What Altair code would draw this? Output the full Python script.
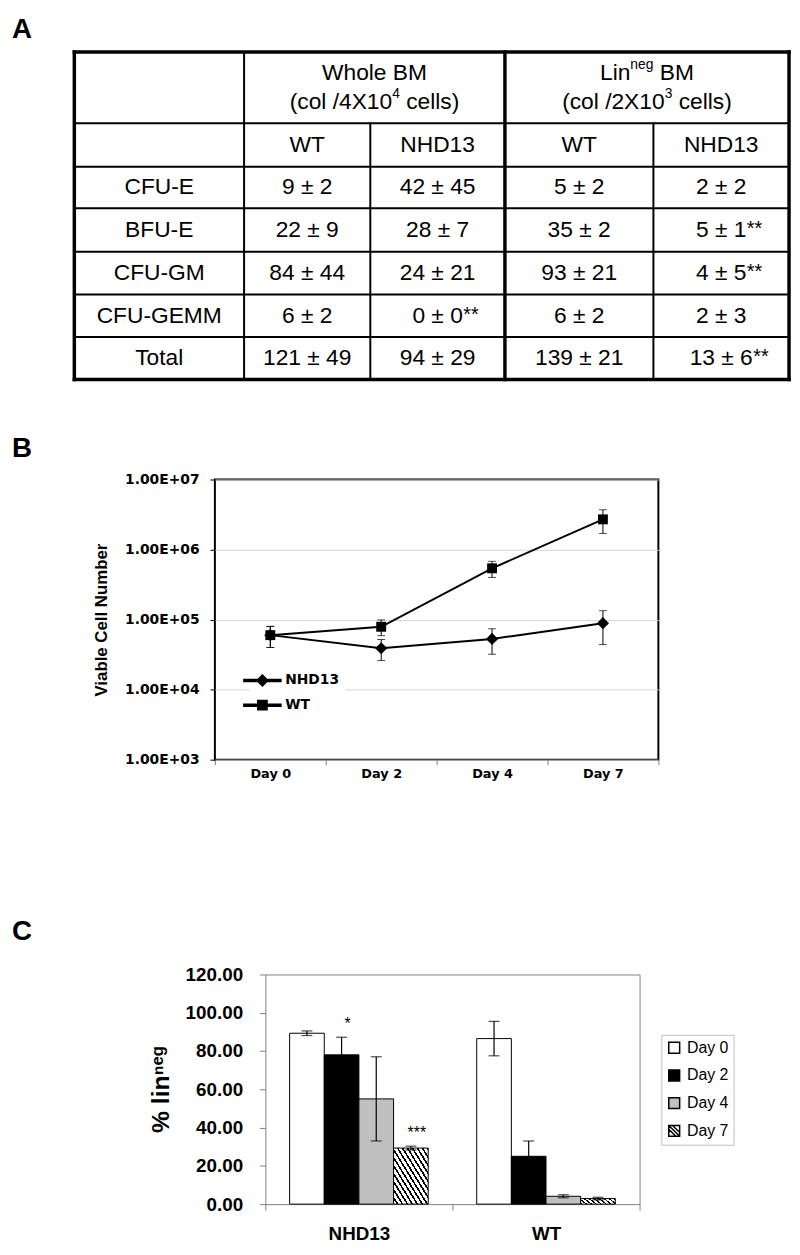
import altair as alt
import pandas as pd

# ---------------- Panel A: colony counts ----------------
colony_types = ["CFU-E", "BFU-E", "CFU-GM", "CFU-GEMM", "Total"]
genotype_cols = ["WT", "NHD13", "WT", "NHD13"]
whole_wt_mean = [9, 22, 84, 6, 121]
whole_wt_sd = [2, 9, 44, 2, 49]
whole_nhd_mean = [42, 28, 24, 0, 94]
whole_nhd_sd = [45, 7, 21, 0, 29]
whole_nhd_sig = ["", "", "", "**", ""]
lin_wt_mean = [5, 35, 93, 6, 139]
lin_wt_sd = [2, 2, 21, 2, 21]
lin_nhd_mean = [2, 5, 4, 2, 13]
lin_nhd_sd = [2, 1, 5, 3, 6]
lin_nhd_sig = ["", "**", "**", "", "**"]

# ---------------- Panel B: viable cell number ----------------
days_b = ["Day 0", "Day 2", "Day 4", "Day 7"]
series_b = ["NHD13", "WT"]
nhd_cells = [6.0e4, 3.9e4, 5.3e4, 8.9e4]
nhd_cells_sd = [2.0e4, 1.3e4, 2.1e4, 4.5e4]
wt_cells = [6.0e4, 7.9e4, 5.4e5, 2.7e6]
wt_cells_sd = [2.0e4, 2.0e4, 1.4e5, 1.0e6]

# ---------------- Panel C: % lin neg ----------------
genotypes_c = ["NHD13", "WT"]
days_c = ["Day 0", "Day 2", "Day 4", "Day 7"]
linneg_nhd = [89.3, 78.0, 55.0, 29.3]
linneg_nhd_sd = [1.2, 9.2, 22.0, 1.0]
linneg_nhd_sig = ["", "*", "", "***"]
linneg_wt = [86.5, 25.0, 4.1, 2.9]
linneg_wt_sd = [9.0, 8.0, 0.8, 0.7]
linneg_wt_sig = ["", "", "", ""]

FONT = "Liberation Sans, Arial, Helvetica, sans-serif"
WIDE = "DejaVu Sans, Verdana, sans-serif"


def letter(txt, offset):
    return alt.TitleParams(txt, anchor="start", frame="group", offset=offset,
                           fontSize=28, font=FONT, fontWeight="bold", color="black",
                           baseline="alphabetic")


def spacer(w, h, txt, offset):
    return alt.Chart(pd.DataFrame({"v": [0]})).mark_point(opacity=0).properties(
        width=w, height=h, title=letter(txt, offset), view=alt.ViewBackground(stroke=None))


# ======== Panel A (table) ========
ARIAL_W = {"(": 333, ")": 333, "c": 500, "o": 556, "l": 222, " ": 278, "/": 278,
           "X": 667, "e": 556, "s": 500, "L": 556, "i": 222, "n": 556, "B": 667,
           "M": 833, "g": 556, "±": 584, "W": 944, "h": 556}


def text_w(s, fs):
    return sum(ARIAL_W.get(ch, 556) for ch in s) / 1000.0 * fs


FS, FS_SUP, FS_STAR = 23, 14, 20
LEFT = 63                      # blank room left of the table (letter column)
TW, TH = 722, 331
col_edges = [0, 171.5, 299, 435, 585, 722]
row_edges = [0, 72, 116, 158, 202, 245, 288, 331]
col_mid = [(col_edges[i] + col_edges[i + 1]) / 2 for i in range(5)]
row_mid = [(row_edges[i] + row_edges[i + 1]) / 2 for i in range(7)]

lines = []
for r in row_edges:
    lines.append(dict(x=0, x2=TW, y=r, y2=r, w=3.5 if r in (0, TH) else 2))
for c in [0, col_edges[1], col_edges[3], TW]:
    lines.append(dict(x=c, x2=c, y=0, y2=TH, w=2 if c == col_edges[1] else 3.5))
for c in [col_edges[2], col_edges[4]]:
    lines.append(dict(x=c, x2=c, y=row_edges[1], y2=TH, w=2))

cells, stars = [], []
for j, g in enumerate(genotype_cols):
    cells.append(dict(x=col_mid[j + 1], y=row_mid[1], t=g))
groups = [(whole_wt_mean, whole_wt_sd, None), (whole_nhd_mean, whole_nhd_sd, whole_nhd_sig),
          (lin_wt_mean, lin_wt_sd, None), (lin_nhd_mean, lin_nhd_sd, lin_nhd_sig)]
for i, name in enumerate(colony_types):
    yy = row_mid[i + 2]
    cells.append(dict(x=col_mid[0], y=yy, t=name))
    for j, (m, s, sig) in enumerate(groups):
        t = f"{m[i]} ± {s[i]}"
        cells.append(dict(x=col_mid[j + 1], y=yy, t=t))
        if sig and sig[i]:
            stars.append(dict(x=col_mid[j + 1] + text_w(t, FS) / 2, y=yy, t=sig[i]))

hl = (col_edges[1] + col_edges[3]) / 2
hr = (col_edges[3] + col_edges[5]) / 2
ya, yb = row_mid[0] - 15, row_mid[0] + 15
header_specs = [
    (hl, ya, [("Whole BM", False)]),
    (hl, yb, [("(col /4X10", False), ("4", True), (" cells)", False)]),
    (hr, ya, [("Lin", False), ("neg", True), (" BM", False)]),
    (hr, yb, [("(col /2X10", False), ("3", True), (" cells)", False)]),
]
pieces_main, pieces_sup = [], []
for cx, cy, parts in header_specs:
    total = sum(text_w(p, FS_SUP if sup else FS) for p, sup in parts)
    x = cx - total / 2
    for p, sup in parts:
        fs = FS_SUP if sup else FS
        lead = len(p) - len(p.lstrip())
        (pieces_sup if sup else pieces_main).append(
            dict(x=x + text_w(p[:lead], fs), y=cy, t=p.strip()))
        x += text_w(p, fs)

xsA = alt.Scale(domain=[-LEFT, TW], nice=False, zero=False)
ysA = alt.Scale(domain=[0, TH], nice=False, zero=False, reverse=True)
xA = alt.X("x:Q", scale=xsA, axis=None)
yA = alt.Y("y:Q", scale=ysA, axis=None)

ruleA = alt.Chart(pd.DataFrame(lines)).mark_rule(color="black", strokeCap="square").encode(
    x=xA, x2="x2:Q", y=yA, y2="y2:Q", strokeWidth=alt.StrokeWidth("w:Q", scale=None))
cellA = alt.Chart(pd.DataFrame(cells)).mark_text(
    align="center", baseline="middle", font=FONT, fontSize=FS, color="black").encode(x=xA, y=yA, text="t:N")
hdrA = alt.Chart(pd.DataFrame(pieces_main)).mark_text(
    align="left", baseline="middle", font=FONT, fontSize=FS, color="black").encode(x=xA, y=yA, text="t:N")
supA = alt.Chart(pd.DataFrame(pieces_sup)).mark_text(
    align="left", baseline="middle", font=FONT, fontSize=FS_SUP, dy=-8, color="black").encode(x=xA, y=yA, text="t:N")
starA = alt.Chart(pd.DataFrame(stars)).mark_text(
    align="left", baseline="middle", font=FONT, fontSize=FS_STAR, dy=-1, color="black").encode(x=xA, y=yA, text="t:N")

panelA = alt.layer(ruleA, cellA, hdrA, supA, starA).properties(
    width=TW + LEFT, height=TH, title=letter("A", -16),
    view=alt.ViewBackground(stroke=None))

# ======== Panel B (log line chart) ========
dfB = pd.DataFrame({
    "day": days_b * 2,
    "series": [series_b[0]] * 4 + [series_b[1]] * 4,
    "cells": nhd_cells + wt_cells,
    "sd": nhd_cells_sd + wt_cells_sd,
})
baseB = alt.Chart(dfB).transform_calculate(lo="datum.cells - datum.sd", hi="datum.cells + datum.sd")
xB = alt.X("day:N", scale=alt.Scale(type="band", domain=days_b, paddingInner=0, paddingOuter=0),
           axis=alt.Axis(title=None, labelAngle=0, tickBand="extent", tickColor="#808080", tickSize=5,
                         domain=False, labelFont=WIDE, labelFontWeight="bold", labelFontSize=13,
                         labelColor="black", labelPadding=3))
ysB = alt.Scale(type="log", domain=[1e3, 1e7], nice=False)
yaxB = alt.Axis(values=[1e3, 1e4, 1e5, 1e6, 1e7],
                labelExpr="'1.00E+0' + round(log(datum.value) / LN10)",
                grid=True, gridColor="#d4d4d4", gridWidth=1, tickColor="black", tickSize=5,
                domain=False, labelFont=WIDE, labelFontWeight="bold", labelFontSize=14,
                labelColor="black", labelPadding=11, title="Viable Cell Number",
                titleFont=FONT, titleFontSize=17, titleFontWeight="bold", titleColor="black",
                titlePadding=14)

errB = baseB.mark_rule(color="black", strokeWidth=1).encode(
    x=xB, y=alt.Y("lo:Q", scale=ysB, axis=yaxB), y2="hi:Q")
capLoB = baseB.mark_tick(color="black", size=8, thickness=1).encode(
    x=xB, y=alt.Y("lo:Q", scale=ysB, axis=yaxB))
capHiB = baseB.mark_tick(color="black", size=8, thickness=1).encode(
    x=xB, y=alt.Y("hi:Q", scale=ysB, axis=yaxB))
lineB = baseB.mark_line(color="black", strokeWidth=2).encode(
    x=xB, y=alt.Y("cells:Q", scale=ysB, axis=yaxB), detail="series:N")
ptsB = baseB.mark_point(filled=True, color="black", opacity=1).encode(
    x=xB, y=alt.Y("cells:Q", scale=ysB, axis=yaxB),
    shape=alt.Shape("series:N", scale=alt.Scale(domain=series_b, range=["diamond", "square"]), legend=None),
    size=alt.Size("series:N", scale=alt.Scale(domain=series_b, range=[150, 100]), legend=None))
tail = "M-3.4,-0.17L3.4,-0.17L3.4,0.17L-3.4,0.17Z"
path_d = tail + " M0,-1L1,0L0,1L-1,0Z"
path_s = tail + " M-0.85,-0.85L0.85,-0.85L0.85,0.85L-0.85,0.85Z"
legB = alt.Chart(dfB).mark_point(filled=True, color="black", stroke="black", strokeWidth=1, opacity=1).encode(
    shape=alt.Shape("series:N", scale=alt.Scale(domain=series_b, range=[path_d, path_s]),
                    legend=alt.Legend(title=None, orient="none", legendX=35, legendY=190,
                                      fillColor="white", padding=6, labelFont=WIDE,
                                      labelFontWeight="bold", labelFontSize=14, labelColor="black",
                                      symbolSize=121, labelOffset=16, rowPadding=8))
).transform_filter("false")

panelB = alt.layer(errB, capLoB, capHiB, lineB, ptsB, legB).resolve_scale(
    shape="independent", size="independent").properties(
    width=448, height=283, view=alt.ViewBackground(stroke="black", strokeWidth=2))
rowB = alt.hconcat(spacer(80, 283, "B", -5), panelB, spacing=0)

# ======== Panel C (grouped bars) ========
dfC = pd.DataFrame({
    "group": [genotypes_c[0]] * 4 + [genotypes_c[1]] * 4,
    "day": days_c * 2,
    "value": linneg_nhd + linneg_wt,
    "sd": linneg_nhd_sd + linneg_wt_sd,
    "sig": linneg_nhd_sig + linneg_wt_sig,
})
baseC = alt.Chart(dfC).transform_calculate(lo="datum.value - datum.sd", hi="datum.value + datum.sd")
xC = alt.X("group:N", scale=alt.Scale(domain=genotypes_c, paddingInner=0, paddingOuter=0),
           axis=alt.Axis(title=None, labelAngle=0, tickBand="extent", tickColor="#808080", tickSize=6,
                         domain=False, labelFont=FONT, labelFontWeight="bold", labelFontSize=19,
                         labelColor="black", labelPadding=15))
xoC = alt.XOffset("day:N", scale=alt.Scale(domain=days_c, paddingInner=0, paddingOuter=0.7))
ysC = alt.Scale(domain=[0, 120], nice=False)
yaxC = alt.Axis(values=[0, 20, 40, 60, 80, 100, 120], format=".2f", grid=False,
                tickColor="#808080", tickSize=6, domain=False, labelFont=FONT, labelFontWeight="bold",
                labelFontSize=19, labelColor="black", labelPadding=17,
                title="% linⁿᵉᵍ", titleFont=FONT, titleFontSize=25, titleFontWeight="bold",
                titleColor="black", titlePadding=12)

N = 14
stops = []
for k in range(N):
    a, b, c = k / N, (k + 0.62) / N, (k + 1) / N
    stops += [{"offset": a, "color": "white"}, {"offset": b, "color": "white"},
              {"offset": b, "color": "black"}, {"offset": c, "color": "black"}]
hatch = {"gradient": "linear", "x1": 0, "y1": 1, "x2": 1, "y2": 0, "stops": stops}
colorC = alt.Scale(domain=days_c, range=["white", "black", "#c0c0c0", "white"])
legendC = alt.Legend(title=None, orient="none", legendX=400, legendY=61,
                     fillColor="white", strokeColor="#c0c0c0", padding=5,
                     labelFont=FONT, labelFontSize=16, labelColor="black",
                     symbolSize=121, labelOffset=5, rowPadding=10)
hatch_sym = ("M-1,-1L1,-1L1,1L-1,1Z M-1,-0.3L0.3,1 M-1,-1L1,1 M-0.3,-1L1,0.3")

legC = alt.Chart(dfC).mark_point(filled=True, stroke="black", strokeWidth=1, opacity=1).encode(
    color=alt.Color("day:N", scale=colorC, legend=legendC),
    shape=alt.Shape("day:N", scale=alt.Scale(domain=days_c,
                                              range=["square", "square", "square", hatch_sym]),
                    legend=legendC)
).transform_filter("false")
barsC = baseC.mark_bar(stroke="black", strokeWidth=1).encode(
    x=xC, xOffset=xoC, y=alt.Y("value:Q", scale=ysC, axis=yaxC),
    color=alt.condition(alt.datum.day == "Day 7", alt.value(hatch),
                        alt.Color("day:N", scale=colorC)))
errC = baseC.mark_rule(color="black", strokeWidth=1.2).encode(
    x=xC, xOffset=xoC, y=alt.Y("lo:Q", scale=ysC, axis=yaxC), y2="hi:Q")
capLoC = baseC.mark_tick(color="black", size=11, thickness=1.2).encode(
    x=xC, xOffset=xoC, y=alt.Y("lo:Q", scale=ysC, axis=yaxC))
capHiC = baseC.mark_tick(color="black", size=11, thickness=1.2).encode(
    x=xC, xOffset=xoC, y=alt.Y("hi:Q", scale=ysC, axis=yaxC))
sigC = baseC.mark_text(font=FONT, fontSize=16, baseline="bottom", dy=-5, dx=6, color="black").encode(
    x=xC, xOffset=xoC, y=alt.Y("hi:Q", scale=ysC, axis=yaxC), text="sig:N")

panelC = alt.layer(legC, barsC, errC, capLoC, capHiC, sigC).properties(
    width=378, height=232, view=alt.ViewBackground(stroke="#808080", strokeWidth=1))
rowC = alt.hconcat(spacer(137, 232, "C", 7), panelC, spacing=0).resolve_scale(
    color="independent", shape="independent")

lower = alt.concat(rowB, rowC, columns=1, spacing=138, align="none").resolve_scale(
    color="independent", shape="independent")
chart = alt.concat(panelA, lower, columns=1, spacing=53, align="none").resolve_scale(
    color="independent", shape="independent").properties(
    padding={"left": 4, "top": 1, "right": 0, "bottom": 0}
).configure(background="white")

chart.save("out.html", embed_options={"renderer": "svg", "actions": False})
